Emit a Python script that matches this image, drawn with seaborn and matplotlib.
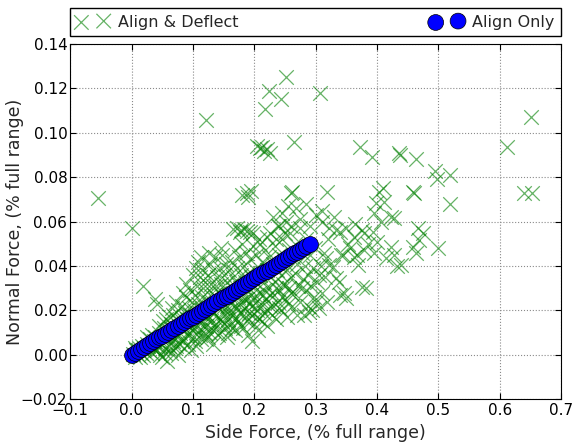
import matplotlib
matplotlib.use("Agg")
import matplotlib.pyplot as plt
import seaborn as sns

# Align & Deflect runs: side force vs normal force (fraction of full range)
ad_side = [
    -0.055, 0.000, 0.018, 0.039, 0.042,
    0.122, 0.218, 0.224, 0.243, 0.2515, 0.307, 0.205, 0.210, 0.215, 0.220, 0.225, 0.212, 0.265,
    0.180, 0.188, 0.194, 0.190, 0.260, 0.262,
    0.650, 0.372, 0.392, 0.436, 0.438, 0.464, 0.494, 0.497, 0.519, 0.611, 0.319, 0.403, 0.458,
    0.460, 0.519, 0.639, 0.653,
    0.165, 0.172, 0.178, 0.183, 0.188, 0.193, 0.176, 0.198,
    0.230, 0.245, 0.255, 0.268, 0.284, 0.275, 0.290, 0.260, 0.240, 0.250, 0.220, 0.210, 0.235,
    0.300, 0.310,
    0.002, 0.005, 0.008, 0.010, 0.012, 0.015, 0.017, 0.019, 0.006, 0.014,
    0.021, 0.024, 0.026, 0.028, 0.030, 0.032, 0.034, 0.036, 0.038, 0.025, 0.033, 0.039,
    0.041, 0.043, 0.045, 0.047, 0.049, 0.051, 0.053, 0.055, 0.057, 0.058, 0.044, 0.052, 0.059,
    0.046, 0.056,
    0.061, 0.062, 0.064, 0.065, 0.067, 0.068, 0.070, 0.071, 0.073, 0.074, 0.075, 0.077, 0.078,
    0.079, 0.066, 0.072, 0.076, 0.063,
    0.081, 0.082, 0.083, 0.085, 0.086, 0.087, 0.088, 0.090, 0.091, 0.092, 0.093, 0.094, 0.095,
    0.096, 0.097, 0.098, 0.099, 0.084, 0.089, 0.100,
    0.101, 0.102, 0.103, 0.104, 0.105, 0.106, 0.107, 0.108, 0.109, 0.110, 0.111, 0.112, 0.113,
    0.114, 0.115, 0.116, 0.117, 0.118, 0.119, 0.120, 0.105, 0.113,
    0.121, 0.122, 0.123, 0.124, 0.125, 0.126, 0.127, 0.128, 0.129, 0.130, 0.131, 0.132, 0.133,
    0.134, 0.135, 0.136, 0.137, 0.138, 0.139, 0.140, 0.126, 0.133,
    0.141, 0.142, 0.143, 0.144, 0.145, 0.146, 0.147, 0.148, 0.149, 0.150, 0.151, 0.152, 0.153,
    0.154, 0.155, 0.156, 0.157, 0.158, 0.159, 0.160, 0.145, 0.155,
    0.161, 0.162, 0.163, 0.164, 0.165, 0.166, 0.167, 0.168, 0.169, 0.170, 0.171, 0.172, 0.173,
    0.174, 0.175, 0.176, 0.177, 0.178, 0.179, 0.180,
    0.181, 0.182, 0.183, 0.184, 0.185, 0.186, 0.187, 0.188, 0.189, 0.190, 0.191, 0.192, 0.193,
    0.194, 0.195, 0.196, 0.197, 0.198, 0.199, 0.200,
    0.201, 0.202, 0.203, 0.204, 0.205, 0.206, 0.207, 0.208, 0.209, 0.210, 0.212, 0.213, 0.214,
    0.215, 0.216, 0.218, 0.219, 0.220,
    0.221, 0.222, 0.224, 0.225, 0.226, 0.228, 0.229, 0.230, 0.232, 0.233, 0.234, 0.236, 0.237,
    0.238, 0.239, 0.240,
    0.241, 0.243, 0.244, 0.245, 0.247, 0.248, 0.250, 0.251, 0.253, 0.254, 0.256, 0.257, 0.258,
    0.260,
    0.261, 0.263, 0.264, 0.266, 0.267, 0.269, 0.270, 0.272, 0.274, 0.275, 0.277, 0.279,
    0.281, 0.282, 0.284, 0.285, 0.287, 0.288, 0.290, 0.292, 0.294, 0.295, 0.297, 0.299,
    0.302, 0.305, 0.308, 0.310, 0.313, 0.316, 0.318, 0.320,
    0.322, 0.339, 0.364, 0.375, 0.394, 0.406, 0.422, 0.400, 0.428, 0.433, 0.414, 0.475, 0.467,
    0.458, 0.500, 0.375, 0.339, 0.350, 0.289, 0.278, 0.317, 0.322, 0.333, 0.356, 0.367, 0.378,
    0.344, 0.306, 0.300, 0.398, 0.411, 0.395, 0.427, 0.349, 0.333, 0.362, 0.378, 0.468, 0.422,
    0.439, 0.463, 0.341, 0.362, 0.395, 0.369, 0.328, 0.338, 0.382, 0.346, 0.409, 0.310, 0.330,
    0.352, 0.385,
    0.035, 0.048, 0.054, 0.062, 0.069, 0.073, 0.080, 0.084, 0.089, 0.093, 0.097, 0.101, 0.104,
    0.108, 0.111, 0.115, 0.118, 0.121, 0.124, 0.128, 0.131, 0.134, 0.137, 0.141, 0.144, 0.148,
    0.151, 0.154, 0.157, 0.161, 0.164, 0.168, 0.171, 0.174, 0.178, 0.181, 0.185, 0.188, 0.192,
    0.196, 0.200, 0.204, 0.208, 0.212, 0.216, 0.220, 0.225, 0.230, 0.235, 0.240, 0.245, 0.250,
    0.255, 0.260, 0.065, 0.058, 0.042, 0.027, 0.018, 0.011,
]
ad_normal = [
    0.0705, 0.057, 0.031, 0.025, 0.023,
    0.106, 0.1107, 0.119, 0.1152, 0.125, 0.118, 0.094, 0.093, 0.092, 0.0925, 0.091, 0.0935, 0.0957,
    0.072, 0.073, 0.074, 0.071, 0.073, 0.0735,
    0.107, 0.0937, 0.089, 0.0907, 0.0902, 0.088, 0.083, 0.079, 0.081, 0.0937, 0.0735, 0.0735, 0.0735,
    0.0728, 0.068, 0.0728, 0.0728,
    0.0565, 0.057, 0.0562, 0.0568, 0.0558, 0.0555, 0.0552, 0.0548,
    0.062, 0.064, 0.067, 0.066, 0.068, 0.061, 0.058, 0.058, 0.058, 0.055, 0.053, 0.050, 0.052,
    0.063, 0.060,
    0.0005, -0.001, 0.002, 0.000, 0.003, 0.001, 0.004, 0.002, 0.003, -0.001,
    0.003, 0.001, 0.005, 0.002, 0.007, 0.004, 0.001, 0.006, 0.003, 0.008, 0.009, 0.008,
    0.002, 0.006, 0.010, 0.004, -0.001, 0.008, 0.012, 0.003, -0.003, 0.007, 0.013, 0.015, 0.011,
    0.000, 0.016,
    0.004, 0.009, 0.014, 0.001, 0.018, 0.006, 0.011, 0.003, 0.016, 0.008, 0.020, 0.013, 0.005,
    0.010, 0.021, 0.024, 0.000, 0.017,
    0.007, 0.015, 0.022, 0.003, 0.012, 0.019, 0.026, 0.009, 0.016, 0.005, 0.021, 0.013, 0.029,
    0.018, 0.002, 0.024, 0.011, 0.028, 0.032, 0.036,
    0.008, 0.020, 0.014, 0.027, 0.004, 0.031, 0.017, 0.042, 0.023, 0.011, 0.035, 0.019, 0.007,
    0.026, 0.038, 0.015, 0.030, 0.022, 0.010, 0.033, 0.039, 0.044,
    0.013, 0.025, 0.018, 0.036, 0.008, 0.029, 0.021, 0.041, 0.015, 0.032, 0.024, 0.011, 0.038,
    0.019, 0.027, 0.044, 0.014, 0.031, 0.022, 0.035, 0.046, 0.005,
    0.017, 0.028, 0.010, 0.039, 0.023, 0.032, 0.015, 0.045, 0.026, 0.019, 0.036, 0.012, 0.029,
    0.041, 0.022, 0.033, 0.016, 0.027, 0.038, 0.020, 0.048, 0.008,
    0.031, 0.014, 0.042, 0.024, 0.035, 0.018, 0.028, 0.047, 0.011, 0.033, 0.021, 0.039, 0.026,
    0.015, 0.044, 0.030, 0.019, 0.036, 0.024, 0.050,
    0.028, 0.012, 0.040, 0.021, 0.033, 0.017, 0.046, 0.025, 0.037, 0.009, 0.030, 0.019, 0.043,
    0.027, 0.035, 0.006, 0.022, 0.049, 0.031, 0.014,
    0.038, 0.024, 0.045, 0.017, 0.032, 0.011, 0.028, 0.052, 0.021, 0.036, 0.015, 0.042, 0.027,
    0.033, 0.019, 0.047, 0.025, 0.038,
    0.013, 0.030, 0.044, 0.022, 0.055, 0.035, 0.018, 0.041, 0.027, 0.049, 0.033, 0.016, 0.038,
    0.024, 0.058, 0.045,
    0.029, 0.036, 0.020, 0.052, 0.032, 0.043, 0.025, 0.060, 0.038, 0.017, 0.047, 0.030, 0.055,
    0.035,
    0.022, 0.044, 0.028, 0.050, 0.037, 0.018, 0.041, 0.031, 0.057, 0.024, 0.046, 0.034,
    0.018, 0.040, 0.029, 0.052, 0.036, 0.022, 0.045, 0.031, 0.020, 0.039, 0.026, 0.048,
    0.033, 0.021, 0.040, 0.028, 0.046, 0.035, 0.024, 0.052,
    0.057, 0.0555, 0.059, 0.056, 0.0555, 0.060, 0.062, 0.051, 0.045, 0.040, 0.0435, 0.0547, 0.057,
    0.0487, 0.048, 0.0307, 0.027, 0.0254, 0.0194, 0.030, 0.0435, 0.0404, 0.0345, 0.048, 0.045, 0.0472,
    0.045, 0.036, 0.024, 0.0683, 0.0688, 0.064, 0.0616, 0.057, 0.056, 0.053, 0.055, 0.0517, 0.0485,
    0.0404, 0.0458, 0.045, 0.044, 0.0458, 0.0404, 0.0395, 0.0327, 0.030, 0.028, 0.075, 0.065, 0.062,
    0.050, 0.050,
    0.003, 0.005, 0.001, 0.002, 0.008, 0.004, 0.012, 0.006, 0.014, 0.009, 0.017, 0.012, 0.006,
    0.015, 0.009, 0.020, 0.013, 0.007, 0.016, 0.010, 0.019, 0.013, 0.022, 0.009, 0.016, 0.021,
    0.014, 0.025, 0.010, 0.018, 0.012, 0.022, 0.016, 0.027, 0.013, 0.020, 0.025, 0.015, 0.023,
    0.018, 0.026, 0.020, 0.016, 0.024, 0.029, 0.020, 0.027, 0.022, 0.030, 0.021, 0.026, 0.031,
    0.023, 0.028, 0.012, 0.010, 0.004, 0.004, 0.000, 0.002,
]

# Align Only runs
ao_side = [0.000, 0.005, 0.010, 0.015, 0.020, 0.025, 0.030, 0.035, 0.040, 0.045,
           0.050, 0.055, 0.060, 0.065, 0.070, 0.075, 0.080, 0.085, 0.090, 0.095,
           0.100, 0.105, 0.110, 0.115, 0.120, 0.125, 0.130, 0.135, 0.140, 0.145,
           0.150, 0.155, 0.160, 0.165, 0.170, 0.175, 0.180, 0.185, 0.190, 0.195,
           0.200, 0.205, 0.210, 0.215, 0.220, 0.225, 0.230, 0.235, 0.240, 0.245,
           0.250, 0.255, 0.260, 0.265, 0.270, 0.275, 0.280, 0.285, 0.290]
ao_normal = [0.0000, 0.0009, 0.0017, 0.0026, 0.0034, 0.0043, 0.0052, 0.0060, 0.0069, 0.0078,
             0.0086, 0.0095, 0.0103, 0.0112, 0.0121, 0.0129, 0.0138, 0.0147, 0.0155, 0.0164,
             0.0172, 0.0181, 0.0190, 0.0198, 0.0207, 0.0216, 0.0224, 0.0233, 0.0241, 0.0250,
             0.0259, 0.0267, 0.0276, 0.0284, 0.0293, 0.0302, 0.0310, 0.0319, 0.0328, 0.0336,
             0.0345, 0.0353, 0.0362, 0.0371, 0.0379, 0.0388, 0.0397, 0.0405, 0.0414, 0.0422,
             0.0431, 0.0440, 0.0448, 0.0457, 0.0465, 0.0474, 0.0483, 0.0491, 0.0500]

x_ticks = [-0.1, 0.0, 0.1, 0.2, 0.3, 0.4, 0.5, 0.6, 0.7]
y_ticks = [-0.02, 0.00, 0.02, 0.04, 0.06, 0.08, 0.10, 0.12, 0.14]

sns.set_style("whitegrid", {
    "axes.edgecolor": "black",
    "axes.linewidth": 1.0,
    "grid.color": "#8a8a8a",
    "grid.linestyle": ":",
    "xtick.bottom": True,
    "xtick.top": True,
    "ytick.left": True,
    "ytick.right": True,
    "xtick.direction": "in",
    "ytick.direction": "in",
})
plt.rcParams["font.family"] = ["DejaVu Sans"]
plt.rcParams["grid.linewidth"] = 0.8
plt.rcParams["xtick.major.size"] = 4
plt.rcParams["ytick.major.size"] = 4

fig = plt.figure(figsize=(5.75, 4.45), dpi=100)
ax = fig.add_axes([0.122, 0.103, 0.854, 0.798])

sns.scatterplot(x=ad_side, y=ad_normal, ax=ax, marker="x", color="green",
                s=110, linewidth=0.9, alpha=0.6, label="Align & Deflect")
sns.scatterplot(x=ao_side, y=ao_normal, ax=ax, marker="o", color="blue",
                s=130, edgecolor="black", linewidth=0.5, label="Align Only", zorder=3)

ax.set_xlim(-0.1, 0.7)
ax.set_ylim(-0.02, 0.14)
ax.set_xticks(x_ticks)
ax.set_yticks(y_ticks)
ax.set_xticklabels([f"{t:.1f}".replace("-", "\u2212") for t in x_ticks])
ax.set_yticklabels([f"{t:.2f}".replace("-", "\u2212") for t in y_ticks])
ax.tick_params(labelsize=11, colors="black", width=0.8)
ax.tick_params(axis="y", pad=2)
ax.tick_params(axis="x", pad=3)
ax.set_xlabel("Side Force, (% full range)", fontsize=12.5)
ax.set_ylabel("Normal Force, (% full range)", fontsize=12.5)
ax.yaxis.set_label_coords(-0.095, 0.5)
for sp in ax.spines.values():
    sp.set_color("black")

leg = ax.legend(loc="lower left", bbox_to_anchor=(0, 1.0225, 1, 0.087), mode="expand",
                ncol=2, borderaxespad=0, scatterpoints=2, fontsize=11.5,
                frameon=True, fancybox=False, framealpha=1, edgecolor="black",
                handletextpad=0.6)
leg.get_frame().set_linewidth(1.0)

fig.savefig("out.png", dpi=100, facecolor="white")
